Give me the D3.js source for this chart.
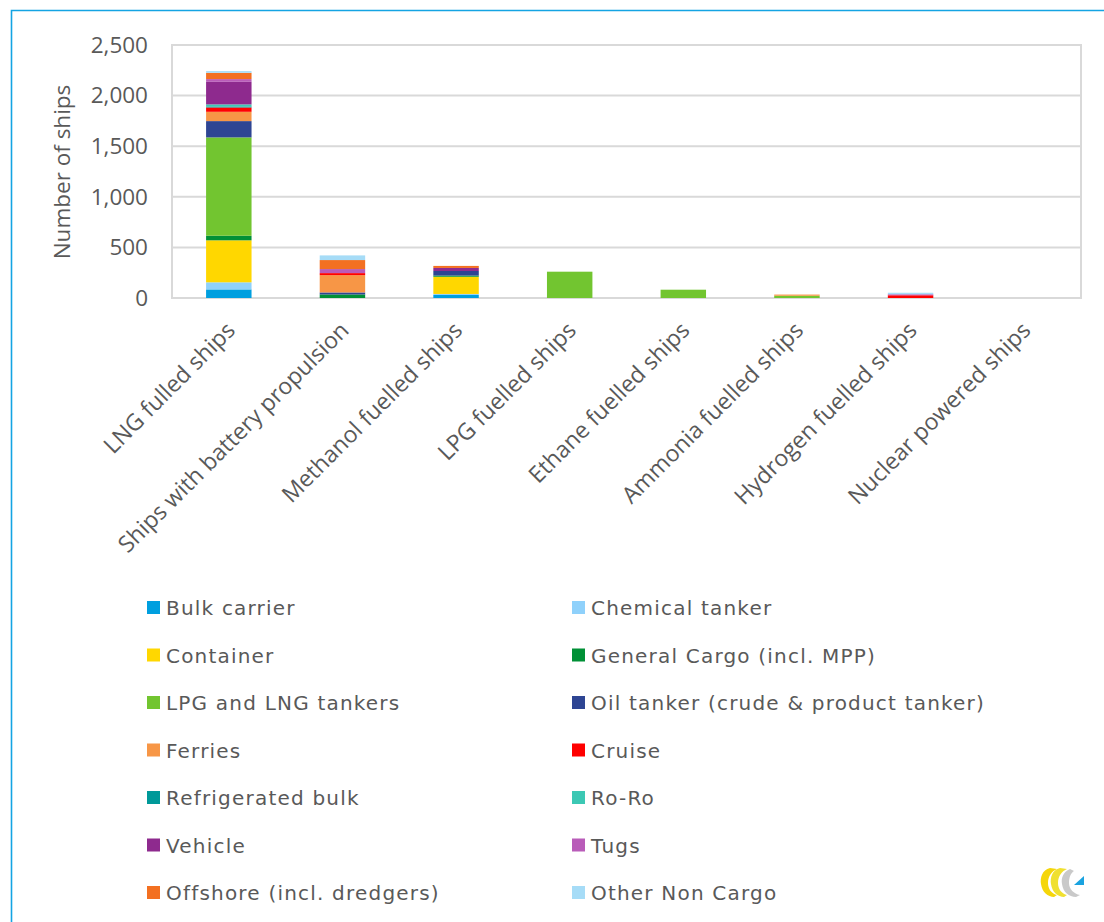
<!DOCTYPE html>
<html>
<head>
<meta charset="utf-8">
<script src="https://cdn.jsdelivr.net/npm/d3@7"></script>
<style>
  html, body { margin: 0; padding: 0; background: #fff; }
  svg { display: block; }
</style>
</head>
<body>
<svg id="chart" width="1104" height="922"></svg>
<script>
// Ship categories by fuel / propulsion type
const categories = [
  "LNG fulled ships",
  "Ships with battery propulsion",
  "Methanol fuelled ships",
  "LPG fuelled ships",
  "Ethane fuelled ships",
  "Ammonia fuelled ships",
  "Hydrogen fuelled ships",
  "Nuclear powered ships"
];

// Ship types (stack order, bottom to top)
const shipTypes = [
  "Bulk carrier", "Chemical tanker", "Container", "General Cargo (incl. MPP)",
  "LPG and LNG tankers", "Oil tanker (crude & product tanker)", "Ferries", "Cruise",
  "Refrigerated bulk", "Ro-Ro", "Vehicle", "Tugs",
  "Offshore (incl. dredgers)", "Other Non Cargo"
];

const typeColors = [
  "#009fdf", "#8fd1fb", "#ffd700", "#009036",
  "#72c530", "#2e4593", "#f79646", "#ff0000",
  "#009999", "#3cc8b4", "#8e2a8e", "#b95cb9",
  "#f37021", "#a6dcf7"
];

// Number of ships per type, one value per category
const bulkCarrier     = [85,   0, 30,   0,  0,  0,  0, 0];
const chemicalTanker  = [70,   0, 10,   0,  0,  0,  0, 0];
const container       = [415,  0, 170,  0,  0,  0,  0, 0];
const generalCargo    = [45,  35, 12,   0,  0,  0,  0, 0];
const lpgLngTankers   = [972,  0,  0, 260, 82, 22,  0, 0];
const oilTanker       = [161, 20, 45,   0,  0,  0,  0, 0];
const ferries         = [92, 171,  0,   0,  0, 12,  0, 0];
const cruise          = [43,  20,  0,   0,  0,  0, 27, 0];
const refrigeratedBulk= [10,   0,  0,   0,  0,  0,  0, 0];
const roRo            = [20,   0,  0,   0,  0,  0,  0, 0];
const vehicle         = [223,  0, 30,   0,  0,  0,  0, 0];
const tugs            = [27,  40,  0,   0,  0,  0, 10, 0];
const offshore        = [62,  89, 20,   0,  0,  0,  0, 0];
const otherNonCargo   = [17,  46,  0,   0,  0,  0, 15, 0];

const seriesValues = [
  bulkCarrier, chemicalTanker, container, generalCargo,
  lpgLngTankers, oilTanker, ferries, cruise,
  refrigeratedBulk, roRo, vehicle, tugs,
  offshore, otherNonCargo
];

const yTicks = [0, 500, 1000, 1500, 2000, 2500];
const yTitle = "Number of ships";

// Rows for d3.stack
const rows = categories.map((c, i) => {
  const r = { category: c };
  shipTypes.forEach((t, k) => { r[t] = seriesValues[k][i]; });
  return r;
});

const svg = d3.select("#chart");
const textColor = "#595959";
const gridColor = "#d9d9d9";
const axisFont = "'Open Sans', sans-serif";

// Outer frame line (top and left edges)
svg.append("path")
  .attr("d", "M11.5,922 L11.5,10.5 L1104,10.5")
  .attr("fill", "none")
  .attr("stroke", "#14a4e3")
  .attr("stroke-width", 1.6);

const plot = { left: 172, right: 1081, top: 45, bottom: 298 };

const x = d3.scaleBand()
  .domain(categories)
  .range([plot.left, plot.right])
  .padding(0);

const y = d3.scaleLinear()
  .domain([0, 2500])
  .range([plot.bottom, plot.top]);

// Gridlines
svg.append("g")
  .selectAll("line")
  .data(yTicks)
  .join("line")
  .attr("x1", plot.left).attr("x2", plot.right)
  .attr("y1", d => y(d)).attr("y2", d => y(d))
  .attr("stroke", gridColor)
  .attr("stroke-width", 2);

// Plot border
svg.append("rect")
  .attr("x", plot.left).attr("y", plot.top)
  .attr("width", plot.right - plot.left)
  .attr("height", plot.bottom - plot.top)
  .attr("fill", "none")
  .attr("stroke", gridColor)
  .attr("stroke-width", 2);

// Stacked bars
const stacked = d3.stack().keys(shipTypes)(rows);
const barW = x.bandwidth() * 0.4;
const colorOf = d3.scaleOrdinal().domain(shipTypes).range(typeColors);

svg.append("g")
  .selectAll("g")
  .data(stacked)
  .join("g")
  .attr("fill", d => colorOf(d.key))
  .selectAll("rect")
  .data(d => d.filter(s => s[1] - s[0] > 0))
  .join("rect")
  .attr("x", d => x(d.data.category) + (x.bandwidth() - barW) / 2)
  .attr("y", d => y(d[1]))
  .attr("width", barW)
  .attr("height", d => y(d[0]) - y(d[1]));

// Y axis labels
const yAxis = d3.axisLeft(y)
  .tickValues(yTicks)
  .tickFormat(d3.format(","))
  .tickSize(0)
  .tickPadding(24);

const yg = svg.append("g")
  .attr("transform", `translate(${plot.left},0)`)
  .call(yAxis);
yg.select(".domain").remove();
yg.selectAll("text")
  .attr("fill", textColor)
  .style("font-family", axisFont)
  .style("font-size", "22.5px");

// Y axis title
svg.append("text")
  .attr("transform", `translate(70,172) rotate(-90)`)
  .attr("text-anchor", "middle")
  .attr("fill", textColor)
  .style("font-family", axisFont)
  .style("font-size", "22.5px")
  .text(yTitle);

// Category labels, rotated
const xAxis = d3.axisBottom(x).tickSize(0).tickPadding(0);
const xg = svg.append("g")
  .attr("transform", `translate(0,${plot.bottom})`)
  .call(xAxis);
xg.select(".domain").remove();
xg.selectAll("text")
  .attr("fill", textColor)
  .style("font-family", axisFont)
  .style("font-size", "23px")
  .attr("text-anchor", "end")
  .attr("dy", "0.35em")
  .attr("transform", "translate(2,28) rotate(-45)")
  .attr("y", 0);

// Legend: two columns, seven rows
const legendFont = "'DejaVu Sans', sans-serif";
const legend = svg.append("g");
const legendItems = legend.selectAll("g")
  .data(shipTypes)
  .join("g")
  .attr("transform", (d, i) => {
    const col = i % 2;
    const row = Math.floor(i / 2);
    return `translate(${col === 0 ? 147 : 572},${608 + row * 47.5})`;
  });

legendItems.append("rect")
  .attr("x", 0).attr("y", -7)
  .attr("width", 13).attr("height", 13)
  .attr("fill", d => colorOf(d));

legendItems.append("text")
  .attr("x", 19)
  .attr("dy", "0.35em")
  .attr("fill", textColor)
  .style("font-family", legendFont)
  .style("font-size", "20px")
  .style("letter-spacing", "1.2px")
  .text(d => d);

// Small brand mark, bottom right
const mark = svg.append("g").attr("transform", "translate(1040,866)");
mark.append("path")
  .attr("d", "M10,2 C2,4 0,12 1,18 C2,26 8,31 14,31 L17,29 C12,28 8,23 8,17 C8,10 12,5 17,3 Z")
  .attr("fill", "#f5d60a");
mark.append("path")
  .attr("d", "M20,2 C12,4 10,12 11,18 C12,26 18,31 24,31 L27,29 C22,28 18,23 18,17 C18,10 22,5 27,3 Z")
  .attr("fill", "#f0e030");
mark.append("path")
  .attr("d", "M30,3 C23,6 21,12 22,18 C23,26 29,31 36,31 L40,29 C34,28 29,23 29,17 C29,11 31,7 34,5 Z")
  .attr("fill", "#c9c9c9");
mark.append("path")
  .attr("d", "M44,10 L44,19 L34,19 Z")
  .attr("fill", "#1aa3e0");
</script>
</body>
</html>
